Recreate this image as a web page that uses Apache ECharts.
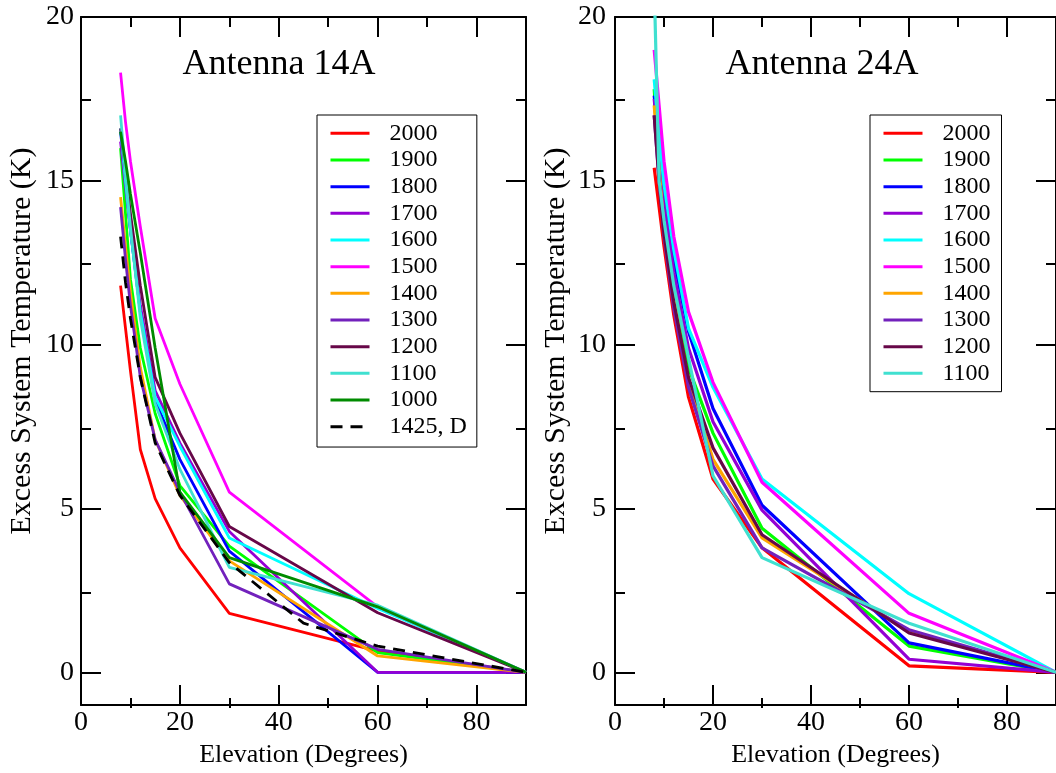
<!DOCTYPE html>
<html><head><meta charset="utf-8">
<script src="https://cdn.jsdelivr.net/npm/echarts@6/dist/echarts.min.js"></script>
<style>html,body{margin:0;padding:0;background:#fff}#c{width:1056px;height:773px}</style>
</head><body><div id="c"></div>
<script>
// ---------- data ----------
const elev = [8, 9, 10, 12, 15, 20, 30, 60, 90];
const elevDash = [8, 9, 10, 12, 15, 20, 30, 45, 60, 90];
const xTickLabels = [0, 20, 40, 60, 80];
const yTickLabels = [0, 5, 10, 15, 20];
const xMinorTicks = [10, 30, 50, 70];
const yMinorTicks = [2.5, 7.5, 12.5, 17.5];

// Antenna 14A
const a14_2000 = [11.8, 10.5, 9.2, 6.8, 5.3, 3.8, 1.8, 0.65, 0];
const a14_1900 = [16.0, 14.0, 12.0, 9.9, 7.9, 5.7, 3.85, 0.6, 0];
const a14_1800 = [16.5, 15.0, 13.5, 11.0, 8.3, 6.5, 3.7, 0, 0];
const a14_1700 = [16.2, 14.8, 13.5, 11.2, 8.6, 7.0, 4.3, 0, 0];
const a14_1600 = [16.6, 15.0, 13.5, 11.0, 8.4, 6.9, 4.1, 1.95, 0];
const a14_1500 = [18.3, 16.8, 15.6, 13.6, 10.8, 8.8, 5.5, 2.0, 0];
const a14_1400 = [14.5, 13.0, 11.6, 9.3, 7.1, 5.4, 3.4, 0.5, 0];
const a14_1300 = [14.2, 12.6, 11.2, 9.0, 7.1, 5.5, 2.7, 0.7, 0];
const a14_1200 = [16.6, 15.3, 14.0, 11.8, 9.0, 7.3, 4.45, 1.82, 0];
const a14_1100 = [17.0, 15.2, 13.6, 10.8, 8.2, 6.2, 3.2, 2.05, 0];
const a14_1000 = [16.5, 15.6, 14.6, 12.8, 9.9, 5.5, 3.5, 2.0, 0];
const a14_1425D = [13.3, 11.9, 10.8, 9.0, 7.0, 5.4, 3.35, 1.5, 0.8, 0];

// Antenna 24A
const a24_2000 = [15.4, 14.2, 13.0, 10.9, 8.4, 5.9, 3.8, 0.2, 0];
const a24_1900 = [17.8, 15.5, 14.0, 11.8, 9.3, 7.3, 4.4, 0.8, 0];
const a24_1800 = [17.6, 16.0, 14.6, 12.6, 10.4, 8.05, 5.1, 0.9, 0];
const a24_1700 = [17.5, 15.8, 14.3, 12.2, 9.9, 7.65, 4.95, 0.4, 0];
const a24_1600 = [18.1, 16.4, 14.9, 12.9, 10.5, 8.7, 5.9, 2.4, 0];
const a24_1500 = [19.0, 17.3, 15.6, 13.3, 11.0, 8.85, 5.8, 1.8, 0];
const a24_1400 = [17.3, 15.3, 13.6, 11.4, 8.9, 6.5, 4.1, 1.25, 0];
const a24_1300 = [17.0, 15.0, 13.3, 11.1, 8.7, 6.3, 3.8, 1.3, 0];
const a24_1200 = [17.0, 15.0, 13.4, 11.3, 9.0, 6.85, 4.2, 1.2, 0];
const a24_1100 = [21.0, 15.0, 13.8, 11.8, 9.6, 6.0, 3.5, 1.5, 0];

const leftNames = ['2000','1900','1800','1700','1600','1500','1400','1300','1200','1100','1000','1425, D'];
const leftData = [a14_2000,a14_1900,a14_1800,a14_1700,a14_1600,a14_1500,a14_1400,a14_1300,a14_1200,a14_1100,a14_1000,a14_1425D];
const rightNames = ['2000','1900','1800','1700','1600','1500','1400','1300','1200','1100'];
const rightData = [a24_2000,a24_1900,a24_1800,a24_1700,a24_1600,a24_1500,a24_1400,a24_1300,a24_1200,a24_1100];

// ---------- styles ----------
const colorOf = {
  '2000':'#ff0000','1900':'#00ff00','1800':'#0000ff','1700':'#9400d3',
  '1600':'#00ffff','1500':'#ff00ff','1400':'#ffa500','1300':'#7221bc',
  '1200':'#670748','1100':'#40e0d0','1000':'#008b00','1425, D':'#000000'
};
const FF = 'Liberation Serif';

function mkSeries(name, xs, ys, xi, yi, width) {
  const c = colorOf[name];
  const dashed = name === '1425, D';
  return {
    type: 'line', name: name, xAxisIndex: xi, yAxisIndex: yi,
    data: xs.map((x, i) => [x, ys[i]]),
    symbol: 'none', showSymbol: false, silent: true, animation: false,
    lineStyle: { color: c, width: width, type: dashed ? [12, 8] : 'solid' },
    itemStyle: { color: c },
    emphasis: { disabled: true }
  };
}

const series = [];
leftNames.forEach((n, i) => series.push(mkSeries(n, n === '1425, D' ? elevDash : elev, leftData[i], 0, 0, 2.8)));
rightNames.forEach((n, i) => series.push(mkSeries(n, elev, rightData[i], 4, 4, 3.2)));

const gridRects = [
  { left: 81, top: 17, width: 445, height: 691 },
  { left: 81, top: 17, width: 445, height: 691 },
  { left: 615, top: 17, width: 445.5, height: 691 },
  { left: 615, top: 17, width: 445.5, height: 691 }
];

const lineSt = { color: '#000', width: 2 };
function xAxisDef(g, pos, major, withLabels) {
  return {
    type: 'value', gridIndex: g, position: pos, min: 0, max: 90,
    axisLine: { show: major, onZero: false, lineStyle: lineSt },
    axisTick: { show: true, inside: true, length: major ? 20 : 10, lineStyle: lineSt,
      customValues: major ? [20, 40, 60, 80] : xMinorTicks },
    axisLabel: withLabels ? { show: true, customValues: xTickLabels, color: '#000', fontFamily: FF, fontSize: 28, margin: 4 } : { show: false },
    splitLine: { show: false },
    name: withLabels ? 'Elevation (Degrees)' : '',
    nameLocation: 'middle', nameGap: 31,
    nameTextStyle: { color: '#000', fontFamily: FF, fontSize: 26 }
  };
}
function yAxisDef(g, pos, major, withLabels, margin) {
  return {
    type: 'value', gridIndex: g, position: pos, min: -1, max: 20,
    axisLine: { show: major, onZero: false, lineStyle: lineSt },
    axisTick: { show: true, inside: true, length: major ? 20 : 10, lineStyle: lineSt,
      customValues: major ? yTickLabels : yMinorTicks },
    axisLabel: withLabels ? { show: true, customValues: yTickLabels, color: '#000', fontFamily: FF, fontSize: 28, margin: margin } : { show: false },
    splitLine: { show: false },
    name: withLabels ? 'Excess System Temperature (K)' : '',
    nameLocation: 'middle', nameGap: 44,
    nameTextStyle: { color: '#000', fontFamily: FF, fontSize: 30, padding: [0, 0, 0, 40] }
  };
}

const xAxes = [
  xAxisDef(0, 'bottom', true, true), xAxisDef(0, 'top', true, false),
  xAxisDef(1, 'bottom', false, false), xAxisDef(1, 'top', false, false),
  xAxisDef(2, 'bottom', true, true), xAxisDef(2, 'top', true, false),
  xAxisDef(3, 'bottom', false, false), xAxisDef(3, 'top', false, false)
];
const yAxes = [
  yAxisDef(0, 'left', true, true, 7), yAxisDef(0, 'right', true, false),
  yAxisDef(1, 'left', false, false), yAxisDef(1, 'right', false, false),
  yAxisDef(2, 'left', true, true, 9), yAxisDef(2, 'right', true, false),
  yAxisDef(3, 'left', false, false), yAxisDef(3, 'right', false, false)
];

function legendDef(names, left, padding) {
  return {
    show: true, orient: 'vertical', left: left, top: 115,
    data: names, selectedMode: false,
    itemWidth: 39, itemHeight: 14, itemGap: 0,
    itemStyle: { opacity: 0, color: 'rgba(0,0,0,0)', borderWidth: 0, borderColor: 'rgba(0,0,0,0)' },
    lineStyle: { opacity: 1, width: 3 },
    padding: padding, borderColor: '#000', borderWidth: 1, backgroundColor: '#fff',
    textStyle: { color: '#000', fontFamily: FF, fontSize: 24, lineHeight: 26.67, padding: [0, 0, 0, 15] }
  };
}

const option = {
  animation: false,
  backgroundColor: '#fff',
  grid: gridRects,
  xAxis: xAxes,
  yAxis: yAxes,
  legend: [
    legendDef(leftNames, 317, [5, 10, 7, 12]),
    legendDef(rightNames, 870, [5, 11, 5, 12])
  ],
  graphic: [
    { type: 'text', x: 279, y: 65, silent: true,
      style: { text: 'Antenna 14A', fontFamily: FF, fontSize: 36, fill: '#000', align: 'center', verticalAlign: 'middle' } },
    { type: 'text', x: 822, y: 65, silent: true,
      style: { text: 'Antenna 24A', fontFamily: FF, fontSize: 36, fill: '#000', align: 'center', verticalAlign: 'middle' } }
  ],
  series: series
};

const chart = echarts.init(document.getElementById('c'), null, { renderer: 'canvas' });
chart.setOption(option);
</script>
</body></html>
